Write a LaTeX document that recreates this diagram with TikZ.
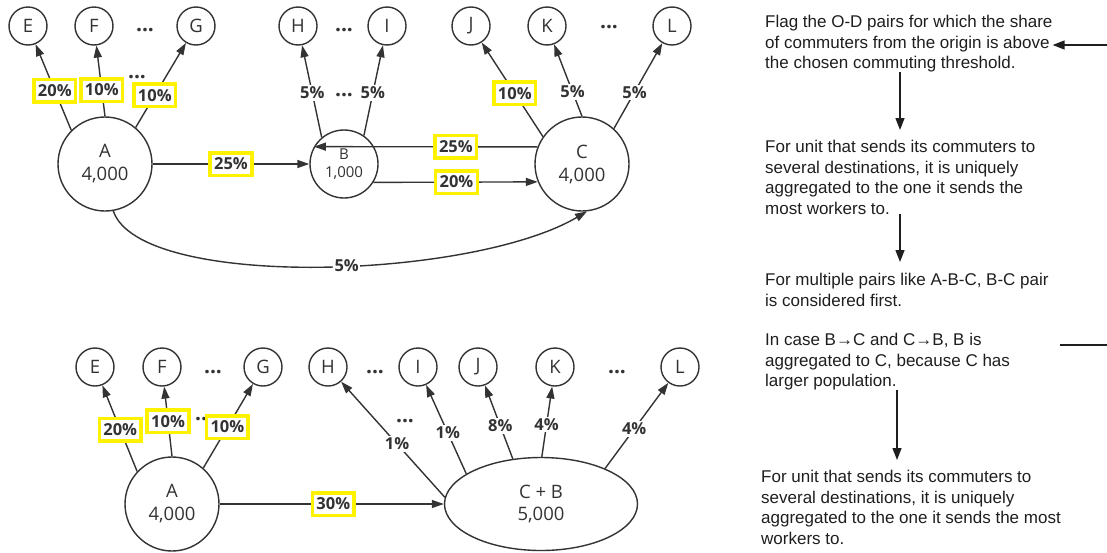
\documentclass[tikz,border=0pt]{standalone}
\usepackage{fontspec}
\setmainfont{Liberation Sans}
\newfontfamily\diagfont{Open Sans}
\usetikzlibrary{arrows.meta,shapes.geometric,calc}
\definecolor{hl}{HTML}{FFF200}
\definecolor{ink}{HTML}{333333}
\definecolor{txt}{HTML}{1E1E1E}
\begin{document}
\begin{tikzpicture}[x=1pt,y=-1pt,
  every node/.style={text=ink},
  conn/.style={draw=ink, line width=1.4pt, -{Triangle[length=12pt,width=8pt]}},
  leaf/.style={circle, draw=ink, line width=1.4pt, minimum size=38pt, inner sep=0pt, font=\diagfont\fontsize{18.5}{20}\selectfont},
  hub/.style={circle, draw=ink, line width=1.4pt, minimum size=94pt, inner sep=0pt, align=center, font=\diagfont\fontsize{18.5}{23}\selectfont},
  hubsmall/.style={hub, minimum size=68pt, font=\diagfont\fontsize{15}{18}\selectfont},
  merged/.style={ellipse, draw=ink, line width=1.4pt, minimum width=193pt, minimum height=93pt, inner sep=0pt, align=center, font=\diagfont\fontsize{18.5}{22}\selectfont},
  pct/.style={fill=white, inner sep=1.5pt, font=\diagfont\bfseries\fontsize{16.5}{18}\selectfont, text height=12pt, text depth=0.5pt},
  flag/.style={pct, draw=hl, line width=3.5pt, inner xsep=4pt, inner ysep=5pt},
  dots/.style={anchor=base, inner sep=0pt, font=\diagfont\bfseries\fontsize{21}{21}\selectfont},
  note/.style={anchor=north west, inner sep=0pt, align=left, text=txt, font=\fontsize{17}{20.5}\selectfont},
  flow/.style={draw=txt, line width=1.4pt, -{Triangle[length=12pt,width=9pt]}},
]
\useasboundingbox (0,0) rectangle (1107,552);

% ---------- top diagram ----------
\node[leaf] (E1) at (28,26) {E};
\node[leaf] (F1) at (94,26) {F};
\node[leaf] (G1) at (196,26) {G};
\node[leaf] (H1) at (298,26) {H};
\node[leaf] (I1) at (387,26) {I};
\node[leaf] (J1) at (471,26) {J};
\node[leaf] (K1) at (547,26) {K};
\node[leaf] (L1) at (672,26) {L};
\node[hub] (A1) at (105,164) {A\\4,000};
\node[hubsmall] (B1) at (344,164) {B\\1,000};
\node[hub] (C1) at (582,164) {C\\4,000};

\node[dots] (d1) at (145,31) {...};
\node[dots] (d2) at (137,78) {...};
\node[dots] (d3) at (344,31) {...};
\node[dots] (d4) at (344,96) {...};
\node[dots] (d5) at (609,28) {...};

\draw[conn] (A1.135) -- node[flag,pos=0.46]{20\%} (E1);
\draw[conn] (A1.90) -- node[flag,pos=0.37]{10\%} (F1);
\draw[conn] (A1.50) -- node[flag,pos=0.38]{10\%} (G1);
\draw[conn] (A1) -- node[flag,pos=0.5]{25\%} (B1);
\draw[conn] (C1.159) -- node[flag,pos=0.365]{25\%} (B1.150);
\draw[conn] (B1.-32) -- node[flag,pos=0.505]{20\%} (C1.202);
\draw[conn] (B1.130) -- node[pct,pos=0.48]{5\%} (H1);
\draw[conn] (B1.55) -- node[pct,pos=0.47]{5\%} (I1);
\draw[conn] (C1.145) -- node[flag,pos=0.46]{10\%} (J1);
\draw[conn] (C1.90) -- node[pct,pos=0.34]{5\%} (K1);
\draw[conn] (C1.48) -- node[pct,pos=0.425]{5\%} (L1);
\draw[conn] (A1.-80) .. controls (140,290) and (470,280) .. node[pct,pos=0.55]{5\%} (C1.-84);

% ---------- bottom diagram ----------
\node[leaf] (E2) at (95,367) {E};
\node[leaf] (F2) at (162,367) {F};
\node[leaf] (G2) at (263,367) {G};
\node[leaf] (H2) at (328,367) {H};
\node[leaf] (I2) at (418,367) {I};
\node[leaf] (J2) at (478,367) {J};
\node[leaf] (K2) at (555,367) {K};
\node[leaf] (L2) at (680,367) {L};
\node[hub] (A2) at (172,504) {A\\4,000};
\node[merged] (CB) at (541,504) {C + B\\5,000};

\node[dots] (d6) at (213,373) {...};
\node[dots] (d7) at (204,420) {...};
\node[dots] (d8) at (375,373) {...};
\node[dots] (d9) at (405,422) {...};
\node[dots] (d10) at (617,373) {...};

\draw[conn] (A2.137) -- node[flag,pos=0.486]{20\%} (E2);
\draw[conn] (A2.90) -- node[flag,pos=0.5]{10\%} (F2);
\draw[conn] (A2.49) -- node[flag,pos=0.485]{10\%} (G2);
\draw[conn] (A2) -- node[flag,pos=0.507]{30\%} (CB);
\draw[conn] (CB.176) -- node[pct,pos=0.46]{1\%} (H2);
\draw[conn] (CB.158) -- node[pct,pos=0.46]{1\%} (I2);
\draw[conn] (CB.122) -- node[pct,pos=0.45]{8\%} (J2);
\draw[conn] (CB.89) -- node[pct,pos=0.46]{4\%} (K2);
\draw[conn] (CB.29) -- node[pct,pos=0.46]{4\%} (L2);

% ---------- right-hand notes ----------
\node[note] (n1) at (765,15) {Flag the O-D pairs for which the share\\of commuters from the origin is above\\the chosen commuting threshold.};
\node[note] (n2) at (765,140) {For unit that sends its commuters to\\several destinations, it is uniquely\\aggregated to the one it sends the\\most workers to.};
\node[note] (n3) at (765,273) {For multiple pairs like A-B-C, B-C pair\\is considered first.};
\node[note] (n4) at (765,333) {In case B→C and C→B, B is\\aggregated to C, because C has\\larger population.};
\node[note] (n5) at (761,470) {For unit that sends its commuters to\\several destinations, it is uniquely\\aggregated to the one it sends the most\\workers to.};

\coordinate (e1) at (1107,45);
\coordinate (v1) at (900,0);
\coordinate (v2) at (897,0);
\coordinate (h1) at (1060,345);
\coordinate (h2) at (1107,345);

\draw[flow] (e1) -- (e1 -| n1.east);
\draw[flow, shorten >=10pt] (n1.south -| v1) -- (n2.north -| v1);
\draw[flow, shorten >=11pt] (n2.south -| v1) -- (n3.north -| v1);
\draw[flow, shorten >=10pt] (n4.south -| v2) -- (n5.north -| v2);
\draw[draw=txt, line width=1.4pt] (h1) -- (h2);
\end{tikzpicture}
\end{document}
